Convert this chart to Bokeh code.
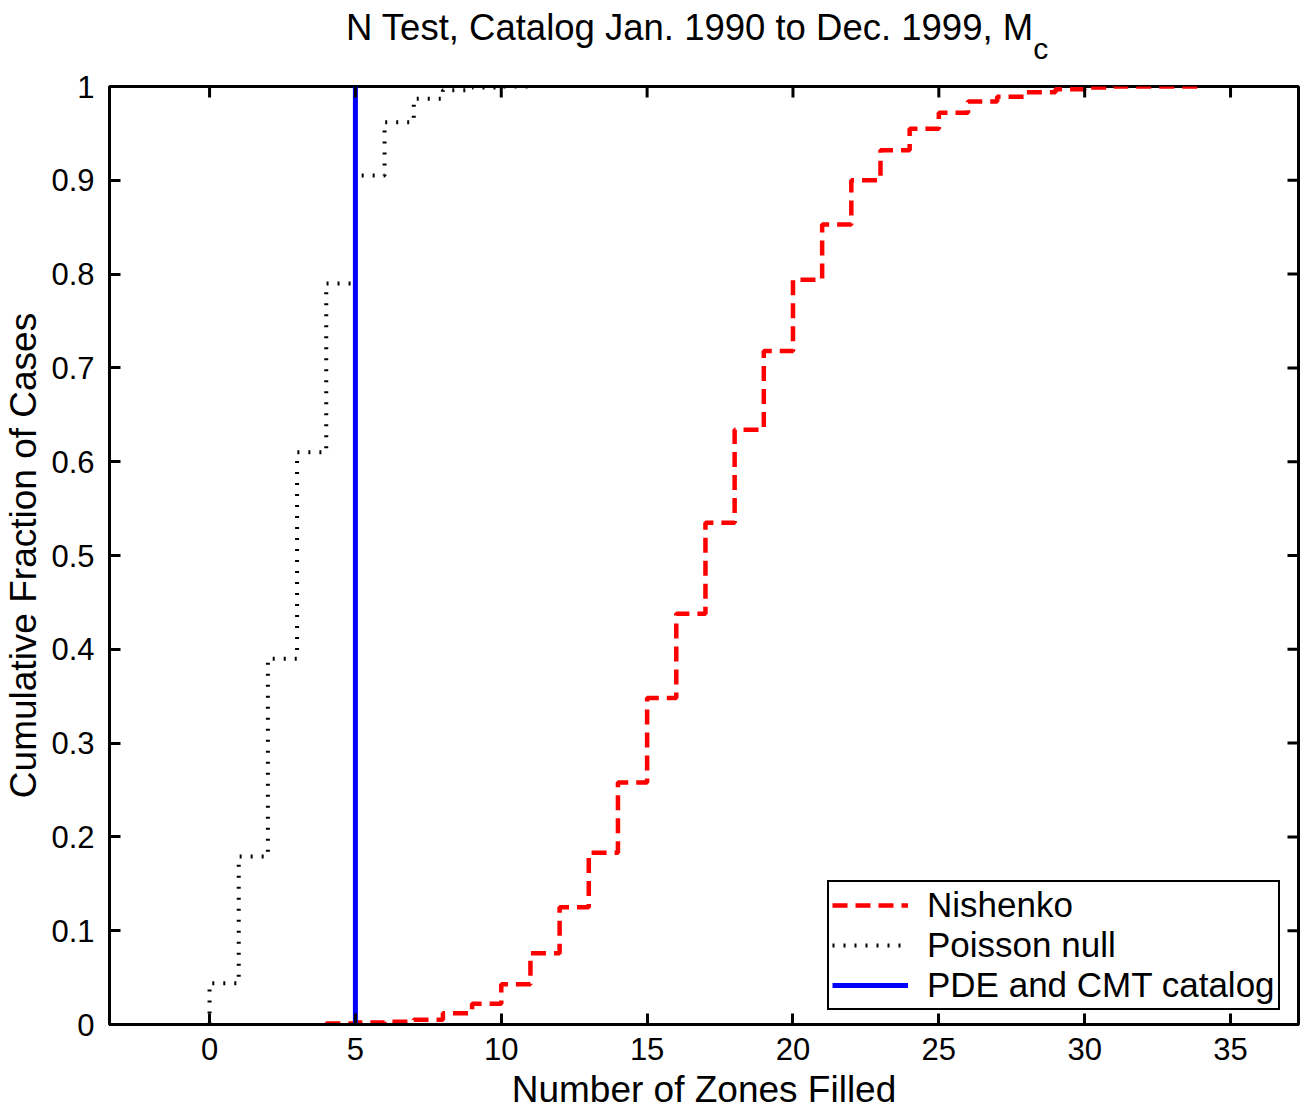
import numpy as np
from bokeh.plotting import figure
from bokeh.layouts import column
from bokeh.models import FixedTicker, Legend, LegendItem, Range1d, Div
from bokeh.embed import file_html
from bokeh.resources import INLINE

# ---- data ----
poisson_zones = [0, 1, 2, 3, 4, 5, 6, 7, 8, 9, 10, 11]
poisson_cdf = [0.044, 0.179, 0.39, 0.61, 0.79, 0.905, 0.962, 0.987, 0.996, 0.999, 1.0, 1.0]

nishenko_zones = list(range(4, 35))
nishenko_cdf = [0.001, 0.002, 0.003, 0.005, 0.012, 0.022, 0.043, 0.076, 0.125, 0.183,
                0.258, 0.348, 0.438, 0.535, 0.634, 0.718, 0.794, 0.853, 0.900, 0.932,
                0.955, 0.972, 0.984, 0.989, 0.994, 0.997, 0.999, 1.0, 1.0, 1.0, 1.0]

catalog_n = 5
catalog_cdf_span = [0.0, 1.0]

x_ticks = [0, 5, 10, 15, 20, 25, 30, 35]
y_ticks = [0, 0.1, 0.2, 0.3, 0.4, 0.5, 0.6, 0.7, 0.8, 0.9, 1]
y_tick_labels = ["0", "0.1", "0.2", "0.3", "0.4", "0.5", "0.6", "0.7", "0.8", "0.9", "1"]

title_text = "N Test, Catalog Jan. 1990 to Dec. 1999, M"
title_sub = "c"
x_label = "Number of Zones Filled"
y_label = "Cumulative Fraction of Cases"
FONT = "Liberation Sans"

X_START, X_END = -3.43, 37.33
Y_START, Y_END = 0.0, 1.0


def stairs(x, y):
    xs = [x[0]]
    ys = [0.0]
    for i in range(len(x)):
        xs.append(x[i]); ys.append(y[i])
        if i + 1 < len(x):
            xs.append(x[i + 1]); ys.append(y[i])
    return xs, ys


p = figure(frame_width=1189, frame_height=938,
           x_range=Range1d(X_START, X_END), y_range=Range1d(Y_START, Y_END),
           output_backend="svg", toolbar_location=None,
           min_border_left=108, min_border_top=20, min_border_right=5, min_border_bottom=86,
           margin=0)
p.background_fill_color = "white"
p.border_fill_color = "white"
p.outline_line_color = "black"
p.outline_line_width = 3
p.xgrid.visible = False
p.ygrid.visible = False

nx, ny = stairs(nishenko_zones, nishenko_cdf)
r_nish = p.line(nx, ny, line_color="#ff0000", line_width=4.5, line_dash="15 8")
px_, py_ = stairs(poisson_zones, poisson_cdf)
r_pois = p.line(px_, py_, line_color="black", line_width=4, line_dash="2 9")
r_cat = p.line([catalog_n, catalog_n], catalog_cdf_span, line_color="#0000ff", line_width=5)

# inward ticks on the top and right edges (half of each marker is clipped by the frame)
p.scatter(x=x_ticks, y=[Y_END] * len(x_ticks), marker="dash", angle=np.pi / 2,
          size=22, line_color="black", line_width=3)
p.scatter(x=[X_END] * len(y_ticks), y=y_ticks, marker="dash",
          size=22, line_color="black", line_width=3)


def style_axis(ax):
    ax.axis_line_color = "black"
    ax.axis_line_width = 3
    ax.major_tick_line_color = "black"
    ax.major_tick_line_width = 3
    ax.major_tick_in = 11
    ax.major_tick_out = 0
    ax.minor_tick_line_color = None
    ax.major_label_text_font = FONT
    ax.major_label_text_color = "black"
    ax.major_label_text_font_size = "31px"
    ax.axis_label_text_font = FONT
    ax.axis_label_text_font_size = "37px"
    ax.axis_label_text_font_style = "normal"
    ax.axis_label_text_color = "black"


xa = p.xaxis[0]
xa.ticker = FixedTicker(ticks=x_ticks)
style_axis(xa)
xa.major_label_standoff = 13
xa.axis_label = x_label
xa.axis_label_standoff = 6

ya = p.yaxis[0]
ya.ticker = FixedTicker(ticks=y_ticks)
ya.major_label_overrides = {t: l for t, l in zip(y_ticks, y_tick_labels)}
style_axis(ya)
ya.major_label_standoff = 15
ya.axis_label = y_label
ya.axis_label_standoff = 4

legend = Legend(items=[LegendItem(label="Nishenko", renderers=[r_nish]),
                       LegendItem(label="Poisson null", renderers=[r_pois]),
                       LegendItem(label="PDE and CMT catalog", renderers=[r_cat])],
                location=(718, 14))
legend.label_text_font = FONT
legend.label_text_font_size = "35px"
legend.label_text_color = "black"
legend.border_line_color = "black"
legend.border_line_width = 2
legend.border_line_alpha = 1.0
legend.background_fill_alpha = 1.0
legend.padding = 3
legend.spacing = 0
legend.margin = 0
legend.label_height = 38
legend.glyph_height = 38
legend.glyph_width = 76
legend.label_standoff = 19
p.add_layout(legend, "center")

title_html = (title_text +
              '<span style="font-size:30px;position:relative;top:19px;">' + title_sub + '</span>')
title_div = Div(text=title_html, width=1302, height=66, margin=0,
                styles={"font-family": FONT, "font-size": "36.5px", "line-height": "40px",
                        "padding-top": "8px", "padding-left": "346px", "color": "black",
                        "white-space": "nowrap", "box-sizing": "border-box"})

layout = column(title_div, p, spacing=0, margin=0)

open("out.html", "w").write(file_html(layout, INLINE))
